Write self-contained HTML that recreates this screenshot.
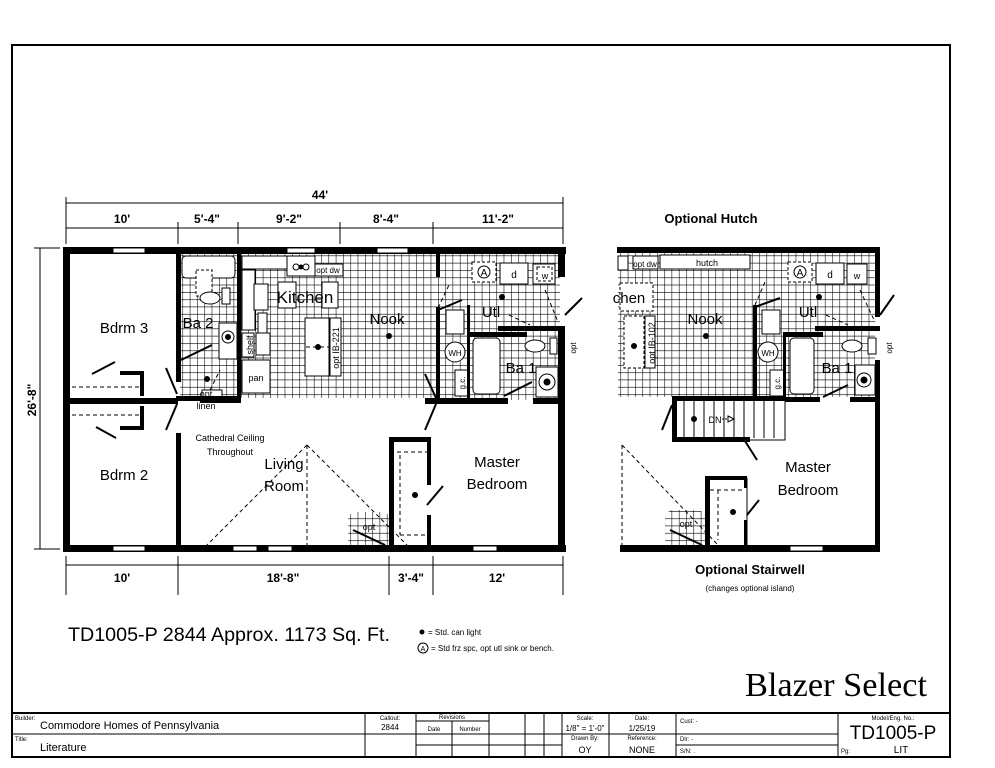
<!DOCTYPE html>
<html><head><meta charset="utf-8"><style>
html,body{margin:0;padding:0;background:#fff}
svg{display:block}
text{font-family:"Liberation Sans",Arial,sans-serif;fill:#000}
text.serif{font-family:"Liberation Serif",serif}
</style></head><body>
<svg width="995" height="768" viewBox="0 0 995 768" xmlns="http://www.w3.org/2000/svg">
<defs>
<pattern id="g" width="7.3" height="7.3" patternUnits="userSpaceOnUse">
<rect width="7.3" height="7.3" fill="#fff"/>
<path d="M0 0H7.3M0 0V7.3" stroke="#000" stroke-width="1.1" fill="none"/>
</pattern>
</defs>
<rect x="12" y="45" width="938" height="712" fill="none" stroke="#000" stroke-width="2"/>

<g stroke="#000" stroke-width="1" fill="none">
<line x1="66" y1="203" x2="563" y2="203"/>
<line x1="66" y1="228" x2="563" y2="228"/>
<line x1="66" y1="197" x2="66" y2="244"/><line x1="563" y1="197" x2="563" y2="244"/>
<line x1="178" y1="222" x2="178" y2="244"/><line x1="238" y1="222" x2="238" y2="244"/>
<line x1="340" y1="222" x2="340" y2="244"/><line x1="433" y1="222" x2="433" y2="244"/>
<line x1="40" y1="248" x2="40" y2="549"/>
<line x1="34" y1="248" x2="60" y2="248"/><line x1="34" y1="549" x2="60" y2="549"/>
<line x1="66" y1="565" x2="563" y2="565"/>
<line x1="66" y1="556" x2="66" y2="595"/><line x1="178" y1="556" x2="178" y2="595"/>
<line x1="389" y1="556" x2="389" y2="595"/><line x1="433" y1="556" x2="433" y2="595"/><line x1="563" y1="556" x2="563" y2="595"/>
</g>
<g font-size="12" font-weight="bold" text-anchor="middle">
<text x="320" y="199">44'</text>
<text x="122" y="223">10'</text><text x="207" y="223">5'-4"</text><text x="289" y="223">9'-2"</text>
<text x="386" y="223">8'-4"</text><text x="498" y="223">11'-2"</text>
<text x="122" y="582">10'</text><text x="283" y="582">18'-8"</text><text x="411" y="582">3'-4"</text><text x="497" y="582">12'</text>
<text transform="translate(36,400) rotate(-90)">26'-8"</text>
</g>

<polygon points="180,254 560,254 560,400 427,400 427,398 180,398" fill="url(#g)"/>
<rect x="348" y="512" width="42" height="35" rx="8" fill="url(#g)"/>
<g fill="#fff" stroke="#000" stroke-width="1">
<rect x="182" y="256" width="53" height="22" rx="4"/>
<rect x="196" y="270" width="16" height="26" stroke-dasharray="3,2"/>
<ellipse cx="210" cy="298" rx="10" ry="6"/>
<rect x="222" y="288" width="8" height="16"/>
<rect x="219" y="323" width="18" height="36"/>
<circle cx="228" cy="337" r="6"/><circle cx="228" cy="337" r="2.5" fill="#000"/>
<rect x="242" y="256" width="45" height="13"/>
<rect x="242" y="270" width="13" height="60"/>
<circle cx="262" cy="292" r="4"/><circle cx="262" cy="302" r="4"/>
<rect x="254" y="284" width="14" height="26"/>
<rect x="258" y="313" width="9" height="20"/>
<rect x="242" y="333" width="12" height="24"/>
<rect x="256" y="333" width="14" height="22"/>
<rect x="242" y="360" width="28" height="33"/>
<rect x="287" y="256" width="28" height="20"/>
<circle cx="296" cy="267" r="3"/><circle cx="306" cy="267" r="3"/>
<rect x="315" y="264" width="28" height="12"/>
<rect x="278" y="282" width="18" height="26"/>
<rect x="322" y="282" width="16" height="26"/>
<rect x="305" y="318" width="24" height="58"/>
<rect x="330" y="318" width="11" height="58"/>
<rect x="472" y="262" width="24" height="20" stroke-dasharray="3,2"/>
<circle cx="484" cy="272" r="6"/>
<rect x="500" y="263" width="28" height="21"/>
<rect x="533" y="264" width="22" height="20"/>
<rect x="537" y="267" width="15" height="14" stroke-dasharray="3,2"/>
<rect x="446" y="310" width="18" height="24"/>
<circle cx="455" cy="352" r="10"/>
<rect x="473" y="338" width="27" height="56" rx="4"/>
<ellipse cx="535" cy="346" rx="10" ry="6"/>
<rect x="550" y="338" width="7" height="16"/>
<rect x="536" y="367" width="22" height="30"/>
<circle cx="547" cy="382" r="8"/><circle cx="547" cy="382" r="3" fill="#000"/>
<rect x="455" y="370" width="14" height="26"/>
<rect x="202" y="390" width="20" height="8"/>
</g>
<g fill="#000">
<rect x="63" y="247" width="503" height="7"/>
<rect x="63" y="545" width="503" height="7"/>
<rect x="63" y="247" width="7" height="305"/>
<rect x="558" y="247" width="7" height="30"/>
<rect x="558" y="330" width="7" height="222"/>
<rect x="66" y="398" width="112" height="6"/>
<rect x="176" y="254" width="5" height="128"/>
<rect x="176" y="433" width="5" height="116"/>
<rect x="237" y="254" width="4" height="146"/>
<rect x="176" y="396" width="65" height="5"/>
<rect x="200" y="396" width="41" height="7"/>
<rect x="425" y="398" width="83" height="6"/>
<rect x="533" y="398" width="32" height="6"/>
<rect x="436" y="254" width="4" height="23"/>
<rect x="436" y="307" width="4" height="93"/>
<rect x="467" y="305" width="3" height="93"/>
<rect x="467" y="332" width="60" height="5"/>
<rect x="498" y="326" width="67" height="5"/>
<rect x="389" y="437" width="5" height="110"/>
<rect x="389" y="437" width="42" height="5"/>
<rect x="427" y="437" width="4" height="48"/>
<rect x="427" y="515" width="4" height="32"/>
<rect x="120" y="371" width="24" height="4"/>
<rect x="140" y="371" width="4" height="25"/>
<rect x="140" y="406" width="4" height="23"/>
<rect x="120" y="426" width="24" height="4"/>
</g>
<g fill="#fff" stroke="#000" stroke-width="1">
<rect x="113" y="248" width="32" height="5"/><rect x="287" y="248" width="28" height="5"/><rect x="377" y="248" width="31" height="5"/>
<rect x="113" y="546" width="32" height="5"/><rect x="233" y="546" width="24" height="5"/><rect x="268" y="546" width="24" height="5"/><rect x="473" y="546" width="24" height="5"/>
</g>
<g stroke="#000" stroke-width="2" fill="none">
<line x1="92" y1="374" x2="115" y2="362"/><line x1="96" y1="427" x2="116" y2="438"/>
<line x1="166" y1="368" x2="177" y2="394"/><line x1="166" y1="430" x2="177" y2="404"/>
<line x1="181" y1="360" x2="212" y2="345"/>
<line x1="425" y1="374" x2="436" y2="398"/><line x1="425" y1="430" x2="436" y2="404"/>
<line x1="438" y1="310" x2="462" y2="300"/>
<line x1="504" y1="396" x2="532" y2="382"/>
<line x1="565" y1="315" x2="582" y2="298"/>
<line x1="427" y1="505" x2="443" y2="486"/>
<line x1="353" y1="530" x2="385" y2="545"/>
</g>
<g stroke="#000" stroke-width="1" fill="none" stroke-dasharray="4,3">
<line x1="72" y1="387" x2="140" y2="387"/><line x1="72" y1="415" x2="140" y2="415"/>
<line x1="307" y1="445" x2="207" y2="545"/><line x1="307" y1="445" x2="407" y2="545"/>
<line x1="307" y1="445" x2="307" y2="545"/>
<line x1="397" y1="452" x2="427" y2="452"/><line x1="400" y1="455" x2="400" y2="535"/>
<line x1="400" y1="535" x2="427" y2="535"/>
<line x1="438" y1="308" x2="449" y2="285"/>
<line x1="509" y1="315" x2="530" y2="325"/>
<line x1="545" y1="290" x2="558" y2="322"/>
<line x1="210" y1="390" x2="220" y2="370"/>
<line x1="306" y1="347" x2="330" y2="347"/>
</g>
<g fill="#000">
<circle cx="207" cy="379" r="3"/><circle cx="318" cy="347" r="3"/><circle cx="389" cy="336" r="3"/>
<circle cx="502" cy="297" r="3"/><circle cx="415" cy="495" r="3"/><circle cx="301" cy="267" r="2.5"/>
</g>
<g font-size="15" text-anchor="middle">
<text x="124" y="333">Bdrm 3</text><text x="124" y="480">Bdrm 2</text>
<text x="198" y="328">Ba 2</text><text x="305" y="303" font-size="17">Kitchen</text>
<text x="387" y="324">Nook</text><text x="491" y="317">Utl</text><text x="521" y="373">Ba 1</text>
<text x="497" y="467">Master</text><text x="497" y="489">Bedroom</text>
<text x="284" y="469">Living</text><text x="284" y="491">Room</text>
</g>
<g font-size="9" text-anchor="middle">
<text x="230" y="441">Cathedral Ceiling</text><text x="230" y="455">Throughout</text>
<text x="206" y="397">opt</text><text x="206" y="409">linen</text>
<text x="256" y="381">pan</text><text x="328" y="273" font-size="8">opt dw</text>
<text x="484" y="276" font-size="10">A</text><text x="514" y="278" font-size="10">d</text><text x="545" y="279" font-size="9">w</text>
<text x="369" y="530">opt</text><text x="455" y="356" font-size="8">WH</text>
<text transform="translate(253,345) rotate(-90)">shelf</text>
<text transform="translate(339,348) rotate(-90)">opt IB-221</text>
<text transform="translate(465,383) rotate(-90)" font-size="8">g.c.</text>
<text transform="translate(576,348) rotate(-90)" font-size="8">opt</text>
</g>

<text x="711" y="223" font-size="13" font-weight="bold" text-anchor="middle">Optional Hutch</text>
<text x="750" y="574" font-size="13" font-weight="bold" text-anchor="middle">Optional Stairwell</text>
<text x="750" y="591" font-size="8" text-anchor="middle">(changes optional island)</text>
<polygon points="618,253 875,253 875,397 618,397" fill="url(#g)"/>
<rect x="665" y="510" width="40" height="37" rx="8" fill="url(#g)"/>
<g fill="#fff" stroke="#000" stroke-width="1">
<rect x="618" y="256" width="10" height="14"/>
<rect x="633" y="256" width="25" height="13"/>
<rect x="660" y="255" width="90" height="14"/>
<rect x="620" y="283" width="33" height="28" stroke-dasharray="3,2"/>
<rect x="624" y="316" width="20" height="52" stroke-dasharray="3,2"/>
<rect x="645" y="316" width="10" height="52"/>
<rect x="788" y="262" width="24" height="20" stroke-dasharray="3,2"/>
<circle cx="800" cy="272" r="6"/>
<rect x="816" y="263" width="28" height="21"/>
<rect x="847" y="264" width="20" height="20"/>
<rect x="762" y="310" width="18" height="24"/>
<circle cx="768" cy="352" r="10"/>
<rect x="790" y="338" width="24" height="56" rx="4"/>
<ellipse cx="852" cy="346" rx="10" ry="6"/>
<rect x="868" y="338" width="8" height="16"/>
<rect x="855" y="365" width="20" height="30"/>
<circle cx="864" cy="380" r="7"/><circle cx="864" cy="380" r="3" fill="#000"/>
<rect x="770" y="370" width="14" height="26"/>
<rect x="673" y="397" width="112" height="43"/>
<rect x="706" y="478" width="41" height="69"/>
</g>
<g stroke="#000" stroke-width="1">
<line x1="684" y1="400" x2="684" y2="438"/><line x1="694" y1="400" x2="694" y2="438"/><line x1="704" y1="400" x2="704" y2="438"/>
<line x1="714" y1="400" x2="714" y2="438"/><line x1="724" y1="400" x2="724" y2="438"/><line x1="734" y1="400" x2="734" y2="438"/>
<line x1="744" y1="400" x2="744" y2="438"/><line x1="754" y1="400" x2="754" y2="438"/><line x1="764" y1="400" x2="764" y2="438"/><line x1="774" y1="400" x2="774" y2="438"/>
</g>
<g fill="#000">
<rect x="617" y="247" width="263" height="6"/>
<rect x="620" y="545" width="260" height="7"/>
<rect x="875" y="247" width="5" height="70"/>
<rect x="875" y="360" width="5" height="192"/>
<rect x="672" y="396" width="113" height="5"/>
<rect x="672" y="396" width="5" height="45"/>
<rect x="672" y="437" width="78" height="5"/>
<rect x="753" y="305" width="4" height="92"/>
<rect x="783" y="337" width="3" height="60"/>
<rect x="783" y="332" width="40" height="5"/>
<rect x="815" y="326" width="65" height="5"/>
<rect x="785" y="397" width="35" height="5"/>
<rect x="850" y="397" width="30" height="5"/>
<rect x="705" y="476" width="5" height="71"/>
<rect x="705" y="476" width="42" height="4"/>
<rect x="744" y="476" width="3" height="12"/>
<rect x="744" y="520" width="3" height="27"/>
<circle cx="634" cy="346" r="3"/><circle cx="706" cy="336" r="3"/><circle cx="819" cy="297" r="3"/>
<circle cx="694" cy="419" r="3"/><circle cx="733" cy="512" r="3"/>
</g>
<rect x="790" y="546" width="33" height="5" fill="#fff" stroke="#000" stroke-width="1"/>
<g stroke="#000" stroke-width="2" fill="none">
<line x1="672" y1="405" x2="662" y2="430"/><line x1="745" y1="441" x2="757" y2="460"/>
<line x1="755" y1="307" x2="780" y2="298"/><line x1="880" y1="315" x2="894" y2="295"/>
<line x1="823" y1="397" x2="848" y2="385"/><line x1="747" y1="515" x2="759" y2="500"/>
<line x1="670" y1="530" x2="702" y2="545"/>
</g>
<g stroke="#000" stroke-width="1" fill="none" stroke-dasharray="4,3">
<line x1="622" y1="445" x2="720" y2="547"/><line x1="622" y1="445" x2="622" y2="545"/>
<line x1="755" y1="305" x2="765" y2="282"/><line x1="826" y1="315" x2="848" y2="325"/>
<line x1="860" y1="290" x2="875" y2="322"/>
<line x1="718" y1="490" x2="718" y2="540"/><line x1="710" y1="490" x2="745" y2="490"/>
</g>
<g font-size="15" text-anchor="middle">
<text x="705" y="324">Nook</text><text x="808" y="317">Utl</text><text x="837" y="373">Ba 1</text>
<text x="808" y="472">Master</text><text x="808" y="495">Bedroom</text>
<text x="629" y="303">chen</text>
</g>
<g font-size="9" text-anchor="middle">
<text x="707" y="266">hutch</text><text x="645" y="267" font-size="8">opt dw</text>
<text x="715" y="423">DN</text><text x="686" y="527">opt</text>
<text x="800" y="276" font-size="10">A</text><text x="830" y="278" font-size="10">d</text><text x="857" y="279">w</text>
<text x="768" y="356" font-size="8">WH</text>
<text transform="translate(655,343) rotate(-90)">opt IB-102</text>
<text transform="translate(780,383) rotate(-90)" font-size="8">g.c.</text>
<text transform="translate(892,348) rotate(-90)" font-size="8">opt</text>
</g>
<polygon points="728,416 734,419 728,422" fill="#fff" stroke="#000"/>
<line x1="722" y1="419" x2="728" y2="419" stroke="#000" stroke-dasharray="2,1"/>

<text x="68" y="641" font-size="19" textLength="322" lengthAdjust="spacingAndGlyphs">TD1005-P 2844  Approx. 1173 Sq. Ft.</text>
<circle cx="422" cy="632" r="2.5" fill="#000"/>
<text x="428" y="635" font-size="8">= Std. can light</text>
<circle cx="423" cy="648" r="5" fill="none" stroke="#000"/>
<text x="423" y="651" font-size="7" text-anchor="middle">A</text>
<text x="431" y="651" font-size="8">= Std frz spc, opt utl sink or bench.</text>
<text class="serif" x="745" y="696" font-size="34" textLength="182" lengthAdjust="spacingAndGlyphs">Blazer Select</text>

<g stroke="#000" fill="none">
<line x1="12" y1="713" x2="950" y2="713" stroke-width="2"/>
<line x1="12" y1="734" x2="838" y2="734" stroke-width="1"/>
<line x1="365" y1="713" x2="365" y2="757"/><line x1="416" y1="713" x2="416" y2="757"/>
<line x1="452" y1="721" x2="452" y2="757"/><line x1="489" y1="713" x2="489" y2="757"/>
<line x1="416" y1="721" x2="489" y2="721"/><line x1="416" y1="745" x2="562" y2="745"/>
<line x1="525" y1="713" x2="525" y2="757"/><line x1="544" y1="713" x2="544" y2="757"/>
<line x1="562" y1="713" x2="562" y2="757"/><line x1="609" y1="713" x2="609" y2="757"/>
<line x1="676" y1="713" x2="676" y2="757"/><line x1="838" y1="713" x2="838" y2="757"/>
<line x1="676" y1="745" x2="838" y2="745"/>
</g>
<g font-size="6">
<text x="15" y="720">Builder:</text><text x="15" y="741">Title:</text>
<text x="390" y="720" text-anchor="middle">Callout:</text>
<text x="452" y="719" text-anchor="middle">Revisions</text>
<text x="434" y="731" text-anchor="middle">Date</text><text x="470" y="731" text-anchor="middle">Number</text>
<text x="585" y="720" text-anchor="middle">Scale:</text><text x="642" y="720" text-anchor="middle">Date:</text>
<text x="585" y="740" text-anchor="middle">Drawn By:</text><text x="642" y="740" text-anchor="middle">Reference:</text>
<text x="680" y="723">Cust: -</text><text x="680" y="741">Dlr:  -</text><text x="680" y="753">S/N:  .</text>
<text x="893" y="720" text-anchor="middle">Model/Eng. No.:</text>
<text x="841" y="753">Pg:</text>
</g>
<g font-size="11">
<text x="40" y="729">Commodore Homes of Pennsylvania</text>
<text x="40" y="751">Literature</text>
</g>
<g font-size="8" text-anchor="middle">
<text x="390" y="730">2844</text><text x="585" y="731">1/8" = 1'-0"</text><text x="642" y="731">1/25/19</text>
<text x="585" y="753" font-size="9">OY</text><text x="642" y="753" font-size="9">NONE</text>
<text x="901" y="753" font-size="10">LIT</text>
</g>
<text x="893" y="739" font-size="19" text-anchor="middle">TD1005-P</text>
</svg>
</body></html>
